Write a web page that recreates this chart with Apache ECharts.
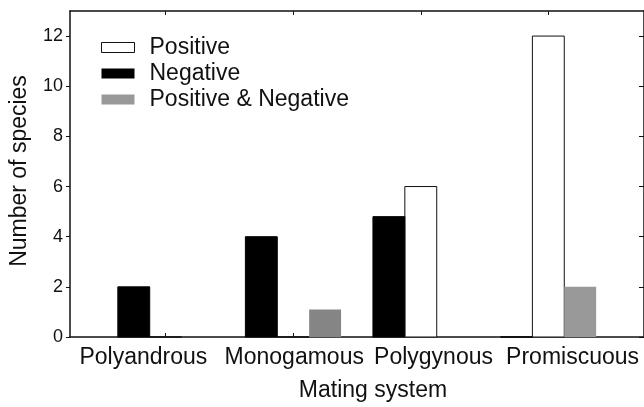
<!DOCTYPE html>
<html>
<head>
<meta charset="utf-8">
<script src="https://cdn.jsdelivr.net/npm/echarts@6/dist/echarts.min.js"></script>
<style>html,body{margin:0;padding:0;background:#fff}#c{width:644px;height:407px}</style>
</head>
<body>
<div id="c"></div>
<script>
var categories = ['Polyandrous', 'Monogamous', 'Polygynous', 'Promiscuous'];
var negative = [2, 4, 4.8, 0];
var positive = [0, 0, 6, 12];
var posNeg = [0, 1.1, 0, 2];
var posNegColors = ['#999999', '#858585', '#999999', '#999999'];
var yTicks = [0, 2, 4, 6, 8, 10, 12];

// layout only: horizontal shift of each category label from its tick, in category units
var labelShift = [-0.175, 0.008, 0.1, 0.19];

var FONT = '"Liberation Sans", Arial, sans-serif';
var chart = echarts.init(document.getElementById('c'), null, {renderer: 'canvas'});

var catTicks = categories.map(function (c, i) { return i; });
var labelPos = categories.map(function (c, i) { return i + labelShift[i]; });

function makeSeries(name, values, offset, fill, stroke, colors) {
  return {
    name: name,
    type: 'custom',
    xAxisIndex: 0,
    yAxisIndex: 0,
    itemStyle: {color: fill, borderColor: stroke},
    data: values.map(function (v, i) { return [i, v]; }),
    renderItem: function (params, api) {
      var x = api.value(0) + offset;
      var v = api.value(1);
      var w = api.size([0.25, 0])[0];
      var top = api.coord([x, v]);
      var base = api.coord([x, 0]);
      var c = colors ? colors[params.dataIndex] : fill;
      return {
        type: 'rect',
        shape: {x: top[0] - w / 2, y: top[1], width: w, height: base[1] - top[1]},
        style: {fill: c, stroke: stroke, lineWidth: stroke ? 1 : 0}
      };
    }
  };
}

chart.setOption({
  animation: false,
  backgroundColor: '#fff',
  textStyle: {fontFamily: FONT},
  grid: {left: 67, right: -2, top: 11, bottom: 70},
  legend: {
    orient: 'vertical',
    left: 101,
    top: 36,
    padding: 0,
    itemWidth: 33,
    itemHeight: 10,
    itemGap: 3,
    textStyle: {fontFamily: FONT, fontSize: 23, color: '#111', padding: [0, 0, 0, 10]},
    data: [
      {name: 'Positive', icon: 'rect', itemStyle: {color: '#fff', borderColor: '#111', borderWidth: 1}},
      {name: 'Negative', icon: 'rect', itemStyle: {color: '#000', borderWidth: 0}},
      {name: 'Positive & Negative', icon: 'rect', itemStyle: {color: '#999999', borderWidth: 0}}
    ]
  },
  xAxis: [{
    type: 'value',
    min: -0.75,
    max: 3.75,
    position: 'bottom',
    name: 'Mating system',
    nameLocation: 'middle',
    nameGap: 42,
    nameTextStyle: {fontFamily: FONT, fontSize: 23, color: '#111', padding: [0, 0, 0, 32]},
    axisLine: {show: true, onZero: false, lineStyle: {color: '#111', width: 1.5}},
    axisTick: {show: true, inside: true, length: 4, customValues: catTicks, lineStyle: {color: '#111'}},
    axisLabel: {show: true, customValues: labelPos, margin: 9, fontFamily: FONT, fontSize: 23, color: '#111',
      hideOverlap: false, showMinLabel: true, showMaxLabel: true,
      formatter: function (v) { return categories[Math.round(v)]; }},
    splitLine: {show: false}
  }, {
    type: 'value',
    min: -0.75,
    max: 3.75,
    position: 'top',
    axisLine: {show: true, onZero: false, lineStyle: {color: '#111', width: 1.5}},
    axisTick: {show: true, inside: true, length: 4, customValues: catTicks, lineStyle: {color: '#111'}},
    axisLabel: {show: false},
    splitLine: {show: false}
  }],
  yAxis: [{
    type: 'value',
    min: 0,
    max: 13,
    position: 'left',
    name: 'Number of species',
    nameLocation: 'middle',
    nameGap: 39,
    nameTextStyle: {fontFamily: FONT, fontSize: 23, color: '#111', padding: [0, 0, 0, 6]},
    axisLine: {show: true, onZero: false, lineStyle: {color: '#111', width: 1.5}},
    axisTick: {show: true, inside: false, length: 4, customValues: yTicks, lineStyle: {color: '#111'}},
    axisLabel: {show: true, customValues: yTicks, margin: 7, fontFamily: FONT, fontSize: 18, color: '#111'},
    splitLine: {show: false}
  }, {
    type: 'value',
    min: 0,
    max: 13,
    position: 'right',
    axisLine: {show: true, onZero: false, lineStyle: {color: '#111', width: 1.5}},
    axisTick: {show: true, inside: true, length: 5, customValues: yTicks, lineStyle: {color: '#111'}},
    axisLabel: {show: false},
    splitLine: {show: false}
  }],
  series: [
    makeSeries('Positive', positive, 0, '#ffffff', '#111111'),
    makeSeries('Negative', negative, -0.25, '#000000', '#000000'),
    makeSeries('Positive & Negative', posNeg, 0.25, '#999999', null, posNegColors)
  ]
});
</script>
</body>
</html>
